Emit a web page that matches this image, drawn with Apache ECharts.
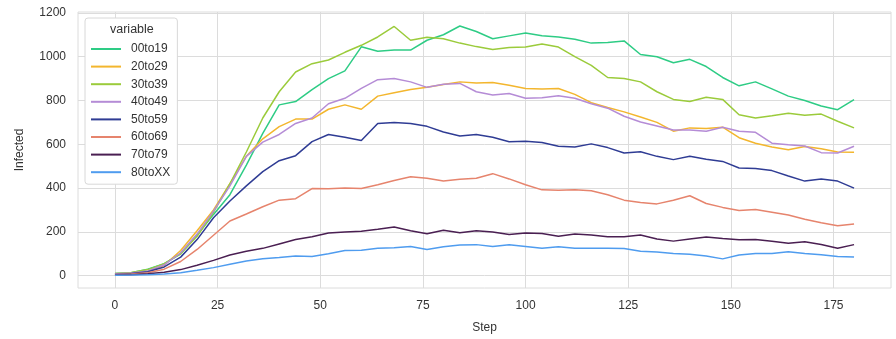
<!DOCTYPE html>
<html>
<head>
<meta charset="utf-8">
<script src="https://cdn.jsdelivr.net/npm/echarts@6/dist/echarts.min.js"></script>
<style>
html,body{margin:0;padding:0;background:#fff;}
#chart{width:896px;height:339px;}
</style>
</head>
<body>
<div id="chart"></div>
<script>
const steps = [0,4,8,12,16,20,24,28,32,36,40,44,48,52,56,60,64,68,72,76,80,84,88,92,96,100,104,108,112,116,120,124,128,132,136,140,144,148,152,156,160,164,168,172,176,180];
const s00to19 = [10,14,30,55,100,185,280,370,505,650,780,795,850,900,935,1045,1025,1030,1030,1075,1100,1140,1115,1082,1095,1108,1096,1090,1080,1062,1065,1072,1010,1000,972,988,955,905,867,885,853,820,800,775,758,804];
const s20to29 = [8,10,20,48,115,205,300,420,545,625,681,715,715,760,780,760,820,835,850,860,873,885,880,882,870,855,852,855,828,790,768,748,725,700,660,675,672,678,630,605,588,575,590,580,565,564];
const s30to39 = [10,15,28,55,100,180,290,420,565,720,840,930,968,985,1020,1052,1090,1138,1075,1089,1082,1062,1046,1033,1042,1044,1058,1044,1000,960,905,900,885,840,805,795,815,805,735,720,730,742,733,738,705,675];
const s40to49 = [9,12,22,50,105,190,295,410,545,610,645,695,720,785,810,855,895,900,885,860,874,878,840,825,832,810,813,822,810,785,765,728,702,684,665,665,660,678,660,655,605,598,592,562,560,591];
const s50to59 = [6,10,18,40,85,165,265,341,410,475,525,548,612,645,632,617,695,700,695,682,656,638,645,632,612,614,608,591,588,602,585,560,566,545,530,545,532,522,492,489,480,455,432,442,432,400];
const s60to69 = [6,8,14,30,65,120,185,250,282,315,345,352,398,397,400,398,415,435,452,445,432,440,445,466,442,415,392,390,392,388,370,345,334,328,345,365,330,312,298,302,290,277,258,242,228,236];
const s70to79 = [3,5,9,16,28,48,70,95,112,125,145,165,178,195,200,203,212,222,205,192,208,196,205,200,188,195,193,180,190,186,178,178,186,168,158,168,177,170,164,165,157,148,155,143,125,142];
const s80toXX = [2,3,5,8,14,25,37,52,67,77,83,90,88,100,115,116,125,128,133,120,132,140,142,134,141,134,126,132,126,125,125,124,112,108,102,98,90,77,95,102,101,110,102,96,88,85];
const seriesNames = ['00to19','20to29','30to39','40to49','50to59','60to69','70to79','80toXX'];
const seriesValues = [s00to19,s20to29,s30to39,s40to49,s50to59,s60to69,s70to79,s80toXX];
const xTicks = [0,25,50,75,100,125,150,175];
const yTicks = [0,200,400,600,800,1000,1200];
const colors = ['#2ecc85','#f3b62e','#9bcb3b','#b58cd6','#2f3c94','#e6846d','#4a1f52','#4f9cef'];

const chart = echarts.init(document.getElementById('chart'));
const font = '"Liberation Sans", Arial, sans-serif';
chart.setOption({
  animation: false,
  backgroundColor: '#fff',
  color: colors,
  textStyle: {fontFamily: font},
  grid: {left: 78, right: 5, top: 12, bottom: 47, show: true, borderColor: '#dcdcdc', borderWidth: 1},
  xAxis: {
    type: 'value', min: -9, max: 189,
    name: 'Step', nameLocation: 'middle', nameGap: 34,
    nameTextStyle: {fontSize: 12, color: '#333', fontFamily: font},
    axisLine: {show: false},
    axisTick: {show: false, customValues: xTicks},
    axisLabel: {customValues: xTicks, color: '#333', fontSize: 12, margin: 12, fontFamily: font},
    splitLine: {show: true, lineStyle: {color: '#dcdcdc', width: 1}}
  },
  yAxis: {
    type: 'value', min: -56, max: 1204,
    name: 'Infected', nameLocation: 'middle', nameGap: 52, nameRotate: 90,
    nameTextStyle: {fontSize: 12, color: '#333', fontFamily: font},
    axisLine: {show: false},
    axisTick: {show: false, customValues: yTicks},
    axisLabel: {customValues: yTicks, color: '#333', fontSize: 12, margin: 12, fontFamily: font,
                formatter: v => String(v)},
    splitLine: {show: true, lineStyle: {color: '#dcdcdc', width: 1}}
  },
  legend: {
    orient: 'vertical', left: 85, top: 18,
    padding: [25, 7, 6, 5],
    itemWidth: 30, itemHeight: 14, itemGap: 5.6,
    itemStyle: {opacity: 0},
    backgroundColor: '#fff', borderColor: '#d8d8d8', borderWidth: 1, borderRadius: 3,
    textStyle: {fontSize: 12, color: '#333', fontFamily: font, padding: [0, 0, 0, 5]},
    data: seriesNames
  },
  graphic: [{
    type: 'text', left: 110, top: 23, z: 100,
    style: {text: 'variable', fontSize: 12.5, fill: '#333', fontFamily: font}
  }],
  series: seriesNames.map((name, k) => ({
    name: name, type: 'line', symbol: 'none',
    lineStyle: {width: 1.5},
    data: steps.map((s, i) => [s, seriesValues[k][i]])
  }))
});
</script>
</body>
</html>
